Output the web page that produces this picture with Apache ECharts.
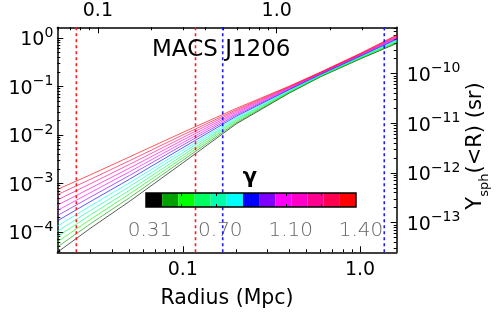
<!DOCTYPE html>
<html><head><meta charset="utf-8">
<script src="https://cdn.jsdelivr.net/npm/echarts@6/dist/echarts.min.js"></script>
<style>html,body{margin:0;padding:0;background:#fff}#c{width:497px;height:319px}</style>
</head><body><div id="c"></div>
<script>
// ---- data ----
const radius = [0.0196, 0.03, 0.05, 0.1, 0.2, 0.4, 0.6, 1.0, 1.61];
const gammaValues = [0.31, 0.40, 0.49, 0.58, 0.67, 0.76, 0.85, 0.94, 1.04, 1.13, 1.22, 1.31, 1.40];
const lineColors = ['#000000','#00a000','#00ff00','#00ff60','#00ffaa','#00ffff','#0000ff','#8000ff','#ff00ff','#ff00c8','#ff0090','#ff0050','#ff0000'];
const y_g031 = [3.81e-5, 1.18e-4, 4.26e-4, 2.65e-3, 1.69e-2, 7.35e-2, 0.159, 0.369, 0.771];
const y_g040 = [4.89e-5, 1.46e-4, 5.07e-4, 2.99e-3, 1.79e-2, 7.55e-2, 0.162, 0.377, 0.798];
const y_g049 = [6.27e-5, 1.80e-4, 6.05e-4, 3.37e-3, 1.91e-2, 7.76e-2, 0.165, 0.385, 0.824];
const y_g058 = [8.03e-5, 2.23e-4, 7.21e-4, 3.80e-3, 2.03e-2, 7.98e-2, 0.168, 0.394, 0.853];
const y_g067 = [1.03e-4, 2.75e-4, 8.61e-4, 4.30e-3, 2.15e-2, 8.20e-2, 0.171, 0.403, 0.881];
const y_g076 = [1.32e-4, 3.40e-4, 1.03e-3, 4.84e-3, 2.29e-2, 8.43e-2, 0.175, 0.411, 0.912];
const y_g085 = [1.69e-4, 4.20e-4, 1.22e-3, 5.46e-3, 2.43e-2, 8.67e-2, 0.178, 0.420, 0.942];
const y_g094 = [2.17e-4, 5.19e-4, 1.46e-3, 6.17e-3, 2.59e-2, 8.91e-2, 0.182, 0.430, 0.975];
const y_g104 = [2.78e-4, 6.41e-4, 1.74e-3, 6.95e-3, 2.75e-2, 9.16e-2, 0.185, 0.439, 1.01];
const y_g113 = [3.56e-4, 7.92e-4, 2.07e-3, 7.85e-3, 2.92e-2, 9.42e-2, 0.188, 0.449, 1.04];
const y_g122 = [4.57e-4, 9.79e-4, 2.47e-3, 8.85e-3, 3.11e-2, 9.68e-2, 0.192, 0.458, 1.08];
const y_g131 = [5.86e-4, 1.21e-3, 2.94e-3, 1.00e-2, 3.30e-2, 9.95e-2, 0.195, 0.468, 1.11];
const y_g140 = [7.52e-4, 1.50e-3, 3.52e-3, 1.13e-2, 3.52e-2, 0.102, 0.199, 0.479, 1.15];
const lineValues = [y_g031, y_g040, y_g049, y_g058, y_g067, y_g076, y_g085, y_g094, y_g104, y_g113, y_g122, y_g131, y_g140];

const redLineRadii = [0.0251, 0.118];
const blueLineRadii = [0.168, 1.37];

const bottomTickValues = [0.1, 1];
const bottomTickLabels = ['0.1', '1.0'];
const topTickValues = [0.1, 1];
const topTickLabels = ['0.1', '1.0'];
const leftTickValues = [1, 0.1, 0.01, 0.001, 0.0001];
const leftTickExps = ['0', '\u22121', '\u22122', '\u22123', '\u22124'];
const rightTickValues = [1e-10, 1e-11, 1e-12, 1e-13];
const rightTickExps = ['\u221210', '\u221211', '\u221212', '\u221213'];
const colorbarLabels = ['0.31', '0.70', '1.10', '1.40'];
const colorbarCells = [1,1,1,1,1,1,1,1,1,1,1,1,1];
const colorbarTickPositions = [1, 2, 3, 4, 5];

// ---- layout ----
const FONT = 'DejaVu Sans';
const GL = 57.3, GT = 27.3, GW = 339.4, GH = 225;
const X_MIN = 0.0196, X_MAX = 1.61;
const XT_MIN = 0.0593, XT_MAX = 4.69;
const YL_MIN = 3.81e-5, YL_MAX = 1.66;
const YR_MIN = 2.52e-14, YR_MAX = 8.51e-10;

function minorTicks(lo, hi) {
  const out = [];
  for (let e = Math.floor(Math.log10(lo)) - 1; e <= Math.ceil(Math.log10(hi)); e++) {
    for (let m = 2; m <= 9; m++) {
      const v = m * Math.pow(10, e);
      if (v > lo * 1.001 && v < hi * 0.999) out.push(v);
    }
  }
  return out;
}
function findIdx(values, v) {
  return values.findIndex(t => Math.abs(Math.log10(t) - Math.log10(v)) < 1e-6);
}
const supRich = {
  b: {fontFamily: FONT, fontSize: 19, color: '#000', lineHeight: 24, verticalAlign: 'bottom'},
  s: {fontFamily: FONT, fontSize: 14, color: '#000', lineHeight: 14, verticalAlign: 'top'}
};
const axisLineStyle = {show: true, onZero: false, lineStyle: {color: '#000', width: 1.5}};

function logAxis(extra) {
  return Object.assign({
    type: 'log', logBase: 10, gridIndex: 0,
    splitLine: {show: false}, minorTick: {show: false},
    axisLine: axisLineStyle
  }, extra);
}

const xAxes = [
  logAxis({position: 'bottom', min: X_MIN, max: X_MAX,
    axisTick: {show: true, inside: true, length: 6, lineStyle: {color: '#000', width: 1}, customValues: bottomTickValues},
    axisLabel: {show: true, customValues: bottomTickValues, margin: 8, fontFamily: FONT, fontSize: 19, color: '#000',
      formatter: v => bottomTickLabels[findIdx(bottomTickValues, v)] || ''},
    name: 'Radius (Mpc)', nameLocation: 'middle', nameGap: 36,
    nameTextStyle: {fontFamily: FONT, fontSize: 20.5, color: '#000'}}),
  logAxis({position: 'top', min: XT_MIN, max: XT_MAX,
    axisTick: {show: true, inside: true, length: 6, lineStyle: {color: '#000', width: 1}, customValues: topTickValues},
    axisLabel: {show: true, customValues: topTickValues, margin: 7, fontFamily: FONT, fontSize: 19, color: '#000',
      formatter: v => topTickLabels[findIdx(topTickValues, v)] || ''}}),
  logAxis({position: 'bottom', min: X_MIN, max: X_MAX, axisLine: {show: false},
    axisTick: {show: true, inside: true, length: 3, lineStyle: {color: '#000', width: 1}, customValues: minorTicks(X_MIN, X_MAX)},
    axisLabel: {show: false}}),
  logAxis({position: 'top', min: XT_MIN, max: XT_MAX, axisLine: {show: false},
    axisTick: {show: true, inside: true, length: 3, lineStyle: {color: '#000', width: 1}, customValues: minorTicks(XT_MIN, XT_MAX)},
    axisLabel: {show: false}}),
  {type: 'category', gridIndex: 1, data: gammaValues.map(String), show: false},
  {type: 'value', gridIndex: 2, min: 0, max: 3, axisLine: {show: false}, axisTick: {show: false}, splitLine: {show: false},
    axisLabel: {show: true, customValues: [0, 1, 2, 3], margin: 13, fontFamily: FONT, fontSize: 20, color: '#666', fontWeight: 200,
      formatter: v => colorbarLabels[Math.round(v)]}},
  {type: 'value', gridIndex: 1, position: 'bottom', min: 0, max: 6, z: 12, axisLine: {show: false}, splitLine: {show: false},
    axisLabel: {show: false}, axisTick: {show: true, inside: true, length: 3, lineStyle: {color: '#000', width: 1}, customValues: colorbarTickPositions}},
  {type: 'value', gridIndex: 1, position: 'top', min: 0, max: 6, z: 12, axisLine: {show: false}, splitLine: {show: false},
    axisLabel: {show: false}, axisTick: {show: true, inside: true, length: 3, lineStyle: {color: '#000', width: 1}, customValues: colorbarTickPositions}}
];
const yAxes = [
  logAxis({position: 'left', min: YL_MIN, max: YL_MAX,
    axisTick: {show: true, inside: true, length: 6, lineStyle: {color: '#000', width: 1}, customValues: leftTickValues},
    axisLabel: {show: true, customValues: leftTickValues, margin: 4, rich: supRich,
      formatter: v => { const i = findIdx(leftTickValues, v); return i < 0 ? '' : '{b|10}{s|' + leftTickExps[i] + '}'; }}}),
  logAxis({position: 'right', min: YR_MIN, max: YR_MAX,
    axisTick: {show: true, inside: true, length: 6, lineStyle: {color: '#000', width: 1}, customValues: rightTickValues},
    axisLabel: {show: true, customValues: rightTickValues, margin: 10, rich: supRich,
      formatter: v => { const i = findIdx(rightTickValues, v); return i < 0 ? '' : '{b|10}{s|' + rightTickExps[i] + '}'; }}}),
  logAxis({position: 'left', min: YL_MIN, max: YL_MAX, axisLine: {show: false},
    axisTick: {show: true, inside: true, length: 3, lineStyle: {color: '#000', width: 1}, customValues: minorTicks(YL_MIN, YL_MAX)},
    axisLabel: {show: false}}),
  logAxis({position: 'right', min: YR_MIN, max: YR_MAX, axisLine: {show: false},
    axisTick: {show: true, inside: true, length: 3, lineStyle: {color: '#000', width: 1}, customValues: minorTicks(YR_MIN, YR_MAX)},
    axisLabel: {show: false}}),
  {type: 'value', gridIndex: 1, min: 0, max: 1, show: false},
  {type: 'value', gridIndex: 2, min: 0, max: 1, show: false}
];

const series = lineValues.map((vals, i) => ({
  type: 'line', name: 'gamma ' + gammaValues[i], xAxisIndex: 0, yAxisIndex: 0,
  data: radius.map((r, j) => [r, vals[j]]),
  showSymbol: false, smooth: false, clip: true,
  lineStyle: {color: lineColors[i], width: 1, opacity: 0.65}, z: 3
}));
function vline(r, color) {
  return {
    type: 'line', xAxisIndex: 0, yAxisIndex: 0, z: 4, showSymbol: false, silent: true,
    data: [[r, YL_MIN], [r, YL_MAX]],
    lineStyle: {color: color, width: 1.6, type: [3, 3]}
  };
}
redLineRadii.forEach(r => series.push(vline(r, '#ff1a1a')));
blueLineRadii.forEach(r => series.push(vline(r, '#1a1aff')));
series.push({
  type: 'bar', xAxisIndex: 4, yAxisIndex: 4, barWidth: '100%', barCategoryGap: '0%',
  data: colorbarCells.map((v, i) => ({value: v, itemStyle: {color: lineColors[i]}})), z: 10
});

const option = {
  animation: false,
  backgroundColor: '#fff',
  title: [{text: 'MACS J1206', left: 152, top: 39, padding: 0,
    textStyle: {fontFamily: FONT, fontSize: 23, fontWeight: 'normal', color: '#000'}}],
  graphic: [
    {type: 'text', x: 250, y: 167, style: {text: '\u03b3', font: 'bold 21px "DejaVu Sans"', fill: '#000', align: 'center'}},
    {type: 'text', x: 478, y: 146, rotation: Math.PI / 2,
      style: {text: '{y|Y}{sub|sph}{y|(<R) (sr)}', align: 'center', verticalAlign: 'middle',
        rich: {
          y: {fontFamily: FONT, fontSize: 21, fill: '#000', lineHeight: 26, verticalAlign: 'top'},
          sub: {fontFamily: FONT, fontSize: 13, fill: '#000', lineHeight: 13, verticalAlign: 'bottom'}
        }}}
  ],
  grid: [
    {left: GL, top: GT, width: GW, height: GH, containLabel: false, outerBoundsMode: 'none'},
    {left: 146, top: 193, width: 210, height: 14, show: true, borderColor: '#000', borderWidth: 1.5, z: 11, backgroundColor: 'transparent', outerBoundsMode: 'none'},
    {left: 150, top: 207, width: 211, height: 1, outerBoundsMode: 'none'}
  ],
  xAxis: xAxes,
  yAxis: yAxes,
  series: series
};
const chart = echarts.init(document.getElementById('c'), null, {renderer: 'canvas'});
chart.setOption(option);
</script></body></html>
